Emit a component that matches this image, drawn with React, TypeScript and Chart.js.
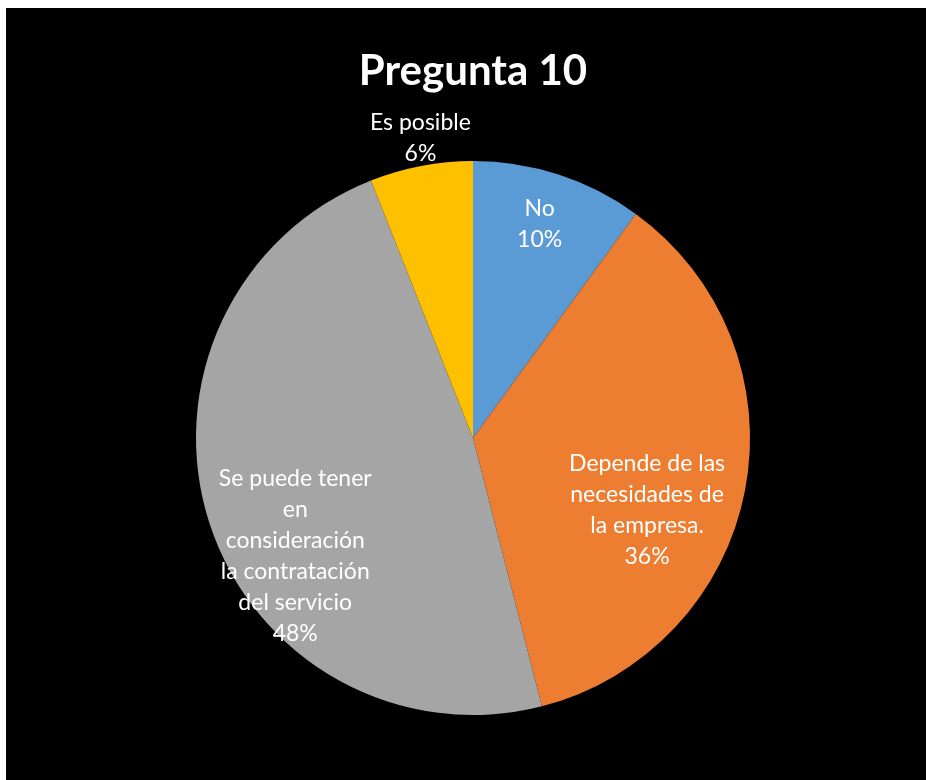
import React, { useEffect, useRef } from "react";
import { Chart, registerables } from "chart.js";

Chart.register(...registerables);

const categories = [
  "No",
  "Depende de las necesidades de la empresa.",
  "Se puede tener en consideración la contratación del servicio",
  "Es posible",
];
const values = [10, 36, 48, 6];
const percentLabels = ["10%", "36%", "48%", "6%"];
const labelLines = [
  ["No"],
  ["Depende de las", "necesidades de", "la empresa."],
  ["Se puede tener", "en", "consideración", "la contratación", "del servicio"],
  ["Es posible"],
];
const colors = ["#5B9BD5", "#ED7D31", "#A5A5A5", "#FFC000"];
const titleText = "Pregunta 10";

// label placement: fraction along slice angle, fraction of radius
const labelPos = [
  { a: 0.48, r: 0.81 },
  { a: 0.59, r: 0.68 },
  { a: 0.41, r: 0.77 },
  { a: 0.54, r: 1.1 },
];

const FONT = "Lato, 'Open Sans', sans-serif";

const labelPlugin = {
  id: "sliceLabels",
  afterDatasetsDraw(chart: any) {
    const ctx = chart.ctx;
    const meta = chart.getDatasetMeta(0);
    ctx.save();
    ctx.fillStyle = "#FFFFFF";
    ctx.font = `23px ${FONT}`;
    ctx.textAlign = "center";
    ctx.textBaseline = "middle";
    const lh = 31;
    meta.data.forEach((arc: any, i: number) => {
      const p = arc.getProps(["x", "y", "startAngle", "endAngle", "outerRadius"], true);
      const pos = labelPos[i];
      const ang = p.startAngle + (p.endAngle - p.startAngle) * pos.a;
      const cx = p.x + Math.cos(ang) * p.outerRadius * pos.r;
      const cy = p.y + Math.sin(ang) * p.outerRadius * pos.r;
      const lines = [...labelLines[i], percentLabels[i]];
      const top = cy - ((lines.length - 1) * lh) / 2;
      lines.forEach((t, k) => ctx.fillText(t, cx, top + k * lh));
    });
    ctx.restore();
  },
};

export default function App() {
  const ref = useRef<HTMLCanvasElement>(null);
  useEffect(() => {
    if (!ref.current) return;
    const chart = new Chart(ref.current, {
      type: "pie",
      data: {
        labels: categories,
        datasets: [
          {
            data: values,
            backgroundColor: colors,
            borderWidth: 0,
          },
        ],
      },
      options: {
        animation: false,
        responsive: false,
        maintainAspectRatio: false,
        layout: { padding: { top: 0, bottom: 65, left: 190, right: 176 } },
        plugins: {
          legend: { display: false },
          tooltip: { enabled: false },
          title: {
            display: true,
            text: titleText,
            color: "#FFFFFF",
            font: { family: FONT, size: 42, weight: "bold", lineHeight: 1.2 },
            padding: { top: 38, bottom: 64.6 },
          },
        },
      },
      plugins: [labelPlugin],
    });
    return () => chart.destroy();
  }, []);
  return (
    <div style={{ position: "fixed", left: 6, top: 8, width: 920, height: 772, background: "#000" }}>
      <canvas ref={ref} width={920} height={772} style={{ display: "block" }} />
    </div>
  );
}
